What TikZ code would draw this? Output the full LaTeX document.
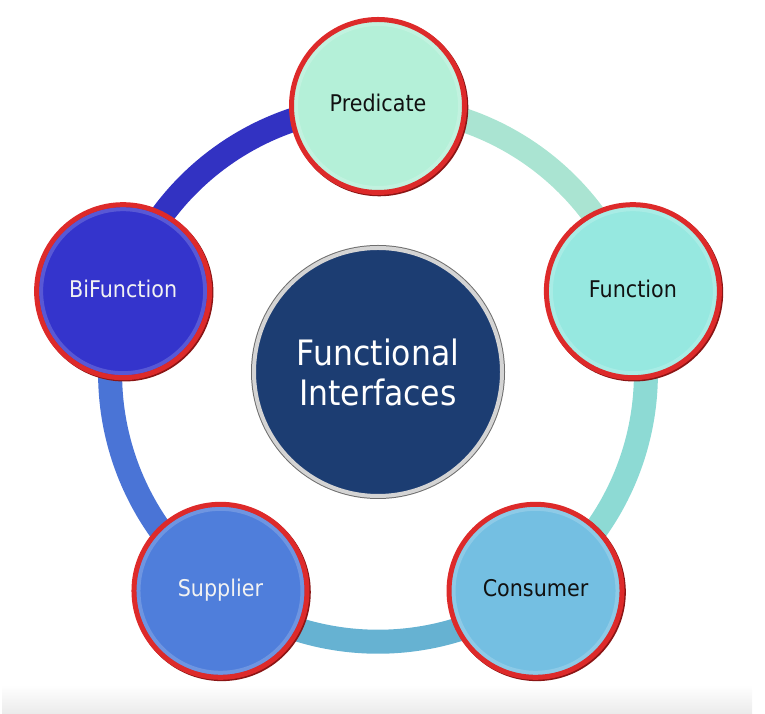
\documentclass[tikz,border=0pt]{standalone}
\usepackage{fontspec}
\setmainfont{DejaVu Sans}[FakeStretch=0.9]
\usetikzlibrary{backgrounds}
\definecolor{predF}{HTML}{B4F0D8}
\definecolor{funcF}{HTML}{96E8E0}
\definecolor{consF}{HTML}{74BFE2}
\definecolor{suppF}{HTML}{4F7EDB}
\definecolor{bifF}{HTML}{3434CC}
\definecolor{ringPF}{HTML}{AAE4D2}
\definecolor{ringFC}{HTML}{8DDAD4}
\definecolor{ringCS}{HTML}{66B2D2}
\definecolor{ringSB}{HTML}{4A74D6}
\definecolor{ringBP}{HTML}{3232C2}
\definecolor{redB}{HTML}{DD2A2A}
\definecolor{redD}{HTML}{8B1515}
\definecolor{hubF}{HTML}{1C3D72}
\definecolor{rimL}{HTML}{D4D4D4}
\definecolor{rimD}{HTML}{6E6E6E}
\definecolor{darktext}{HTML}{111111}
\definecolor{lighttext}{HTML}{F2F2F2}
\begin{document}
\begin{tikzpicture}[x=1pt,y=1pt,
  petal/.style={circle, inner sep=0pt, minimum size=173pt, line width=5pt, draw=redB,
    preaction={draw=redD, line width=5pt, transform canvas={shift={(1.3pt,-1.3pt)}}},
    path picture={\draw[white, opacity=0.18, line width=4pt] (path picture bounding box.center) circle[radius=82pt];},
    font=\fontsize{23}{28}\selectfont, text height=17pt, text depth=5pt},
  hub/.style={circle, inner sep=0pt, minimum size=248pt, fill=hubF, line width=4pt, draw=rimL,
    preaction={draw=rimD, line width=6pt},
    text=white, align=center, font=\fontsize{35}{40}\selectfont},
  ringseg/.style={line width=24pt, bend left=36, looseness=0.94}
]
\useasboundingbox (0,0) rectangle (765,714);
\coordinate (c) at (378,340);
\node[hub] (fi) at (378,342) {Functional\\Interfaces};
\node[petal, fill=predF, text=darktext] (pred) at ([shift={(90:268)}]c) {Predicate};
\node[petal, fill=funcF, text=darktext] (func) at ([shift={(18:268)}]c) {Function};
\node[petal, fill=consF, text=darktext] (cons) at ([shift={(-54:268)}]c) {Consumer};
\node[petal, fill=suppF, text=lighttext] (supp) at ([shift={(-126:268)}]c) {Supplier};
\node[petal, fill=bifF, text=lighttext] (bif) at ([shift={(162:268)}]c) {BiFunction};
\begin{scope}[on background layer]
  \shade[top color=white, bottom color=black!8] (2,0) rectangle (752,29);
  \draw[ringseg, ringBP] (bif.center) to (pred.center);
  \draw[ringseg, ringPF] (pred.center) to (func.center);
  \draw[ringseg, ringFC] (func.center) to (cons.center);
  \draw[ringseg, ringCS] (cons.center) to (supp.center);
  \draw[ringseg, ringSB] (supp.center) to (bif.center);
\end{scope}
\end{tikzpicture}
\end{document}
